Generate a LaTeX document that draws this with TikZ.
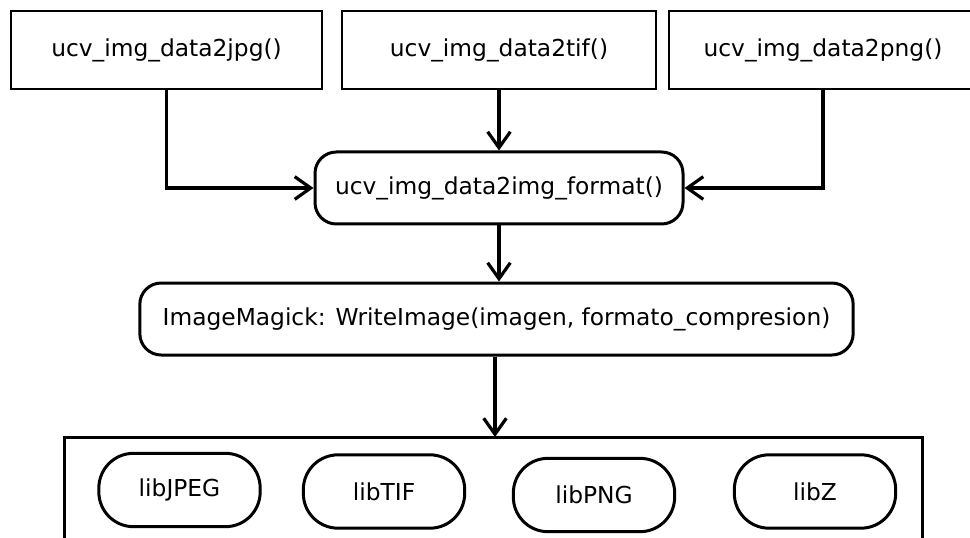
\documentclass[tikz,border=0pt]{standalone}
\usepackage{fontspec}
\setmainfont{DejaVu Sans}
\usetikzlibrary{arrows.meta}

\tikzset{
  funcbox/.style={draw,line width=1.5pt,minimum width=#1,minimum height=58.5pt,inner sep=0pt},
  callbox/.style={draw,line width=2.25pt,rounded corners=16pt,minimum height=54pt,minimum width=#1,inner sep=0pt},
  libbox/.style={draw,line width=2.25pt,rounded corners=26pt,minimum height=55pt,minimum width=121pt,inner sep=0pt}
}

\begin{document}
\begin{tikzpicture}[x=0.75pt,y=-0.75pt,line width=2.4pt,>={Straight Barb[length=12pt,width=17pt]},
  font=\fontsize{17.5}{20}\selectfont]
  \useasboundingbox (0,0) rectangle (970,538);
  \node[funcbox=233pt] (jpg) at (166.5,50) {ucv\_img\_data2jpg()};
  \node[funcbox=235.5pt] (tif) at (499,50) {ucv\_img\_data2tif()};
  \node[funcbox=231pt] (png) at (823,50) {ucv\_img\_data2png()};
  \node[callbox=276pt] (fmt) at (499,188) {ucv\_img\_data2img\_format()};
  \node[callbox=535pt] (im) at (496.5,319) {ImageMagick: WriteImage(imagen, formato\_compresion)};
  \node[draw,line width=2.25pt,minimum width=643pt,minimum height=105pt,inner sep=0pt] (libs) at (493.5,507) {};
  \node[libbox] (jpeg) at (179.5,490) {libJPEG};
  \node[libbox] (tiff) at (384,491.5) {libTIF};
  \node[libbox] (pngl) at (594,495) {libPNG};
  \node[libbox] (zlib) at (815,491.5) {libZ};
  \draw[->] (jpg.south) |- (fmt.west);
  \draw[->] (tif.south) -- (fmt.north);
  \draw[->] (png.south) |- (fmt.east);
  \draw[->] (fmt.south) -- (fmt.south |- im.north);
  \draw[->] (im.south -| 495,0) -- (495,437);
\end{tikzpicture}
\end{document}
